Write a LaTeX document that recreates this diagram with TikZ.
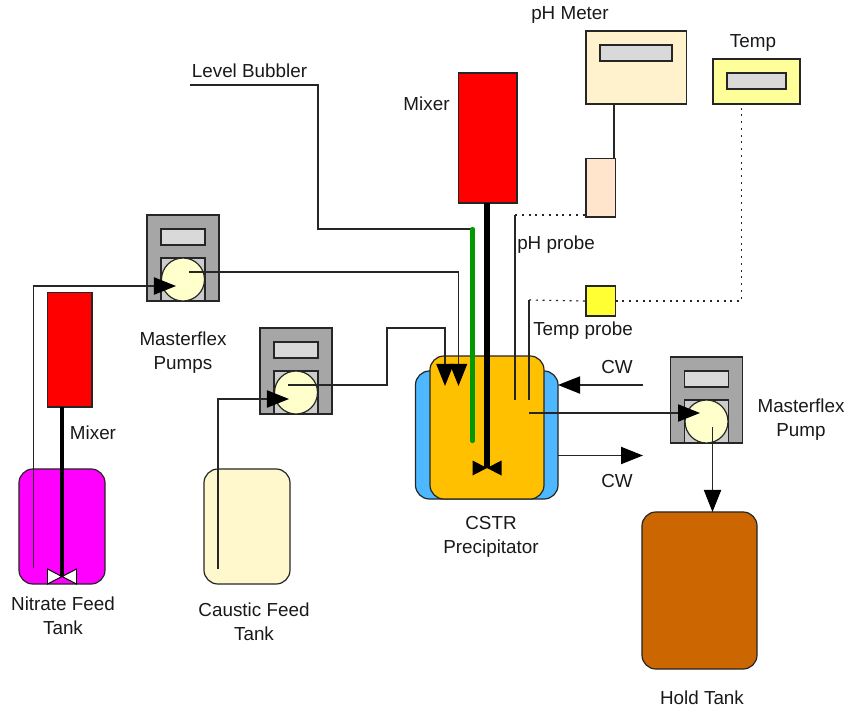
\documentclass[tikz,border=0pt]{standalone}
\usepackage{fontspec}
\setmainfont{Liberation Sans}
\usetikzlibrary{arrows.meta}
\definecolor{nitratemagenta}{HTML}{FF00FF}
\definecolor{jacketblue}{HTML}{4DB8FF}
\definecolor{reactororange}{HTML}{FFC000}
\definecolor{causticcream}{HTML}{FFF8CC}
\definecolor{metercream}{HTML}{FFF2CC}
\definecolor{tempyellow}{HTML}{FFFF99}
\definecolor{probepeach}{HTML}{FFE5CC}
\definecolor{probeyellow}{HTML}{FFFF33}
\definecolor{holdbrown}{HTML}{CC6600}
\definecolor{pumpgray}{HTML}{A6A6A6}
\definecolor{panelgray}{HTML}{D9D9D9}
\definecolor{headgray}{HTML}{CCCCCC}
\definecolor{rotorcream}{HTML}{FFFFCC}
\definecolor{linegray}{HTML}{262626}
\begin{document}
\begin{tikzpicture}[
        x=0.025cm, y=-0.025cm,
        every node/.style={font=\fontsize{13.4}{17}\selectfont, text=black!90, align=center},
        box/.style={rectangle, draw=linegray, line width=0.85pt, inner sep=0pt, outer sep=0pt},
        vessel/.style={box, rounded corners=0.35cm},
        display/.style={box, fill=panelgray, minimum width=1.1cm, minimum height=0.4cm},
        pipe/.style={draw=linegray, line width=0.85pt},
        arrow/.style={pipe, -{Triangle[length=0.55cm, width=0.43cm, color=black]}},
        signal/.style={pipe, dash pattern=on 1.5pt off 3.3pt},
        shaft/.style={draw=black, line width=3.4pt}
      ]
      \useasboundingbox (0,0) rectangle (847,710);

      % tanks
      \node[vessel, fill=nitratemagenta, minimum width=2.15cm, minimum height=2.875cm]
      (nitrate) at (62,526.5) {};
      \node[vessel, fill=causticcream, minimum width=2.15cm, minimum height=2.875cm]
      (caustic) at (247,526.5) {};
      \node[vessel, fill=holdbrown, minimum width=2.875cm, minimum height=3.925cm]
      (hold) at (699.5,590.5) {};
      \node[vessel, fill=jacketblue, minimum width=3.5625cm, minimum height=3.2cm]
      (jacket) at (486.75,435) {};
      \node[vessel, fill=reactororange, minimum width=2.85cm, minimum height=3.575cm]
      (cstr) at (487,427.5) {};

      % mixers
      \node[box, fill=red, minimum width=1.11cm, minimum height=2.86cm]
      (mixerfeed) at (69.75,349.75) {};
      \node[box, fill=red, minimum width=1.46cm, minimum height=3.25cm]
      (mixercstr) at (487.75,138) {};

      % pumps
      \foreach \name/\x/\y in {pumpa/183/258, pumpb/296/371, pumpc/706.5/400}{
          \node[box, fill=pumpgray, minimum width=1.8cm, minimum height=2.15cm]
          (\name) at (\x,\y) {};
          \node[display] (\name-panel) at (\x,\y-21) {};
          \node[box, fill=headgray, minimum width=1.1cm, minimum height=1.075cm]
          (\name-head) at (\x,\y+21.5) {};
          \node[box, circle, fill=rotorcream, minimum size=1.075cm]
          (\name-rotor) at (\x,\y+21.5) {};
        }

      % meters and probes
      \node[box, fill=metercream, minimum width=2.51cm, minimum height=1.825cm]
      (phmeter) at (636.25,67.5) {};
      \node[display, minimum width=1.8cm] (phpanel) at (636,53) {};
      \node[box, fill=tempyellow, minimum width=2.175cm, minimum height=1.125cm]
      (tempmeter) at (756.5,81.5) {};
      \node[display, minimum width=1.475cm] (temppanel) at (756.5,81) {};
      \node[box, fill=probepeach, minimum width=0.74cm, minimum height=1.46cm]
      (phprobe) at (600.75,187.75) {};
      \node[box, fill=probeyellow, minimum width=0.74cm, minimum height=0.75cm]
      (tempprobe) at (600.75,301) {};

      % free ends
      \coordinate (bubblerend) at (190,85);
      \coordinate (greentop) at (472.5,229);
      \coordinate (greenbot) at (472.5,441);
      \coordinate (impcstr) at (487,468);
      \coordinate (impfeed) at (62,576.5);
      \coordinate (dipnitrate) at (33.5,568);
      \coordinate (dipcaustic) at (218,569);
      \coordinate (tipa) at (176,286);
      \coordinate (tipb) at (289,399);
      \coordinate (tipc) at (700,413);
      \coordinate (outa) at (189,272);
      \coordinate (outb) at (288,385);
      \coordinate (outc) at (712.5,427);
      \coordinate (inleta) at (458.5,386);
      \coordinate (inletb) at (445,386);
      \coordinate (drawoff) at (529,413);
      \coordinate (cwin) at (643,385);
      \coordinate (cwout) at (643,455.5);
      \coordinate (phtop) at (515,215);
      \coordinate (phbot) at (515,399.5);
      \coordinate (temptop) at (529,300);
      \coordinate (tempbot) at (529,399.5);
      \coordinate (phlead) at (614,104);
      \coordinate (templead) at (741.5,104);

      % shafts
      \draw[shaft] (impfeed |- mixerfeed.south) -- (impfeed);
      \draw[shaft, line width=3.8pt] (impcstr |- mixercstr.south) -- (impcstr);
      \draw[draw=black, line width=0.7pt, fill=white]
      (impfeed) -- ++(-14.5,-7.5) -- ++(0,15) -- cycle
      (impfeed) -- ++(14.5,-7.5) -- ++(0,15) -- cycle;
      \fill[black]
      (impcstr) -- ++(-14.5,-7.5) -- ++(0,15) -- cycle
      (impcstr) -- ++(14.5,-7.5) -- ++(0,15) -- cycle;

      % bubbler
      \draw[pipe] (bubblerend) -- (318,85) |- (greentop);
      \draw[draw=green!60!black, line width=3pt, line cap=round] (greentop) -- (greenbot);

      % pump lines
      \draw[arrow] (dipnitrate) |- (tipa);
      \draw[arrow] (dipcaustic) |- (tipb);
      \draw[arrow] (outa) -| (inleta);
      \draw[arrow] (outb) -- (387,385) -- (387,328) -| (inletb);
      \draw[arrow] (drawoff) -- (tipc);
      \draw[arrow] (outc) -- (outc |- hold.north);

      % cooling water
      \draw[arrow] (cwin) -- (cwin -| jacket.east);
      \draw[arrow] (cwout -| jacket.east) -- (cwout);

      % instruments
      \draw[pipe] (phtop) -- (phbot);
      \draw[pipe] (temptop) -- (tempbot);
      \draw[pipe] (phlead) -- (phlead |- phprobe.north);
      \draw[signal] (phtop) -- (phtop -| phprobe.west);
      \draw[signal] (temptop) -- (tempprobe.west);
      \draw[signal] (tempprobe.east) -| (templead);

      % labels
      \node (lblphmeter) at (570,15) {pH Meter};
      \node (lbltemp) at (753,43) {Temp};
      \node (lblbubbler) at (249.5,71) {Level Bubbler};
      \node (lblmixercstr) at (426.5,104) {Mixer};
      \node (lblphprobe) at (556,245) {pH probe};
      \node (lbltempprobe) at (583,331) {Temp probe};
      \node (lblcwin) at (617,367) {CW};
      \node (lblcwout) at (617,481) {CW};
      \node (lblpumps) at (183,353) {Masterflex\\Pumps};
      \node (lblpump) at (801,420) {Masterflex\\Pump};
      \node (lblmixerfeed) at (93,433) {Mixer};
      \node (lblnitrate) at (63,616) {Nitrate Feed\\Tank};
      \node (lblcaustic) at (254,622) {Caustic Feed\\Tank};
      \node (lblcstr) at (491,537) {CSTR\\Precipitator};
      \node (lblhold) at (702,698) {Hold Tank};
    \end{tikzpicture}
\end{document}
